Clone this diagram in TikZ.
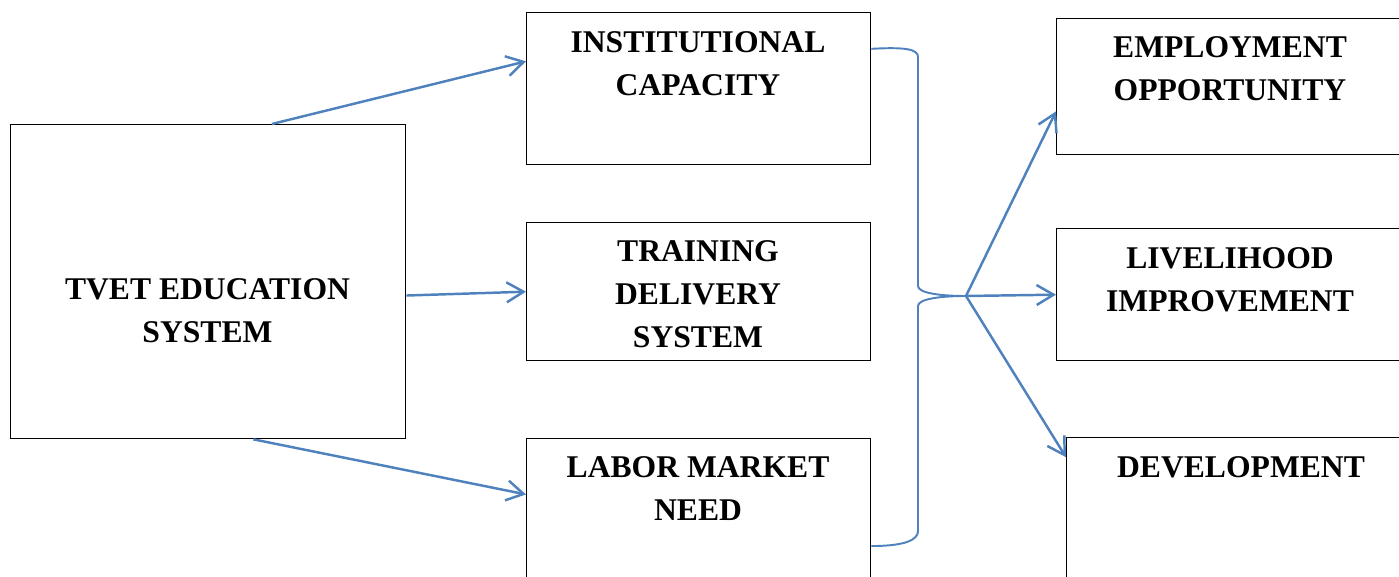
\documentclass[tikz,border=0pt]{standalone}
\usepackage{fontspec}
\setmainfont{Liberation Serif}
\usepackage{tikz}
\usetikzlibrary{arrows.meta}
\usepackage{xcolor}
\definecolor{flowblue}{RGB}{79,129,189}
\tikzstyle{box} = [draw=black, line width=0.8pt, inner sep=0pt, anchor=north west]
\tikzstyle{boxtext} = [anchor=north, inner sep=0pt, align=center, font=\fontsize{18}{24.4}\selectfont\bfseries]
\tikzstyle{arrow} = [line width=1.4pt, flowblue, -{Straight Barb[length=0.34cm,width=0.4cm]}]
\tikzstyle{brace} = [line width=1.1pt, flowblue]

\begin{document}
\begin{tikzpicture}[x=0.02cm, y=-0.02cm]
\useasboundingbox (0,0) rectangle (1399,577);
\clip (0,0) rectangle (1399,577);

% Source box
\node[box, minimum width=7.9cm, minimum height=6.28cm] (tvet) at (10,124) {};
\node[boxtext] (tvetT) at (207.5,278.5) {TVET EDUCATION\\SYSTEM};

% Middle column
\node[box, minimum width=6.88cm, minimum height=3.04cm] (inst) at (526,12) {};
\node[boxtext] (instT) at (698,31.5) {INSTITUTIONAL\\CAPACITY};
\node[box, minimum width=6.88cm, minimum height=2.76cm] (train) at (526,222) {};
\node[boxtext] (trainT) at (698,240.5) {TRAINING\\DELIVERY\\SYSTEM};
\node[box, minimum width=6.88cm, minimum height=3.2cm] (labor) at (526,438) {};
\node[boxtext] (laborT) at (698,456.5) {LABOR MARKET\\NEED};

% Outcome column
\node[box, minimum width=7cm, minimum height=2.72cm] (employ) at (1056,18) {};
\node[boxtext] (employT) at (1230,36.5) {EMPLOYMENT\\OPPORTUNITY};
\node[box, minimum width=7cm, minimum height=2.64cm] (liveli) at (1056,228) {};
\node[boxtext] (liveliT) at (1230,247.5) {LIVELIHOOD\\IMPROVEMENT};
\node[box, minimum width=7cm, minimum height=3.2cm] (devel) at (1066,437) {};
\node[boxtext] (develT) at (1241,456.5) {DEVELOPMENT};

% Arrows into the middle column
\draw[arrow] (tvet.68.3) -- (inst.171.4);
\draw[arrow] (tvet.-4.34) -- (train.west);
\draw[arrow] (tvet.-74.85) -- (labor.172.7);

% Brace joining the middle column
\coordinate (hub) at (966,296);
\draw[brace] (inst.13.4) .. controls (905,47) and (918,49) .. (918,57)
  -- (918,286) .. controls (918,293) and (940,296) .. (hub)
  .. controls (940,296) and (918,299) .. (918,306)
  -- (918,531) .. controls (918,540) and (905,546) .. (labor.-9.2);

% Arrows out to the outcomes
\draw[arrow] (hub) -- (employ.-172.8);
\draw[arrow] (hub) -- (liveli.west);
\draw[arrow] (hub) -- (devel.161.4);
\end{tikzpicture}
\end{document}
